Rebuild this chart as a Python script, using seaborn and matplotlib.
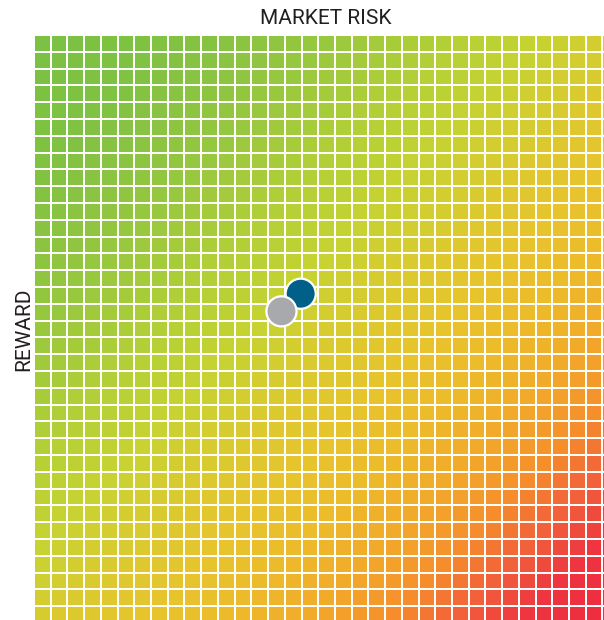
import numpy as np
import pandas as pd
import seaborn as sns
import matplotlib.pyplot as plt
from matplotlib.colors import LinearSegmentedColormap

# grid of the risk/reward map
n_cols = 35
n_rows = 35

# colour ramp of the background, along the diagonal (0 = top-left, 1 = bottom-right)
ramp_stops = [0.0, 0.12, 0.24, 0.34, 0.44, 0.52, 0.60, 0.68, 0.75, 0.81, 0.87, 0.93, 1.0]
ramp_colors = ["#7ac143", "#80c242", "#93c63f", "#adce38", "#c5d332", "#d9ca2f",
               "#e6c42c", "#edba2b", "#f2a82a", "#f6902a", "#f2613a", "#ee3540", "#ee2b40"]

# the two holdings, in grid cells (risk from left, reward from bottom)
names = ["Portfolio", "Benchmark"]
risk = [15.95, 14.8]
reward = [19.6, 18.55]
colors = ["#00608a", "#a7a9ac"]

cmap = LinearSegmentedColormap.from_list("rr", list(zip(ramp_stops, ramp_colors)))

cell_w, cell_h = 16.72, 16.8
w = n_cols * cell_w
h = n_rows * cell_h

# diagonal position of each cell centre over the visible 604x620 picture
cx = 34 + (np.arange(n_cols) + 0.5) * cell_w
cy = 35 + (np.arange(n_rows) + 0.5) * cell_h
heat = (cx[None, :] + cy[:, None] - 69) / 1155

fig = plt.figure(figsize=(6.04, 6.2), dpi=100)
ax = fig.add_axes([34 / 604, (620 - 35 - h) / 620, w / 604, h / 620])
sns.heatmap(heat, ax=ax, cmap=cmap, vmin=0, vmax=1, cbar=False,
            linewidths=1.1, linecolor="white",
            xticklabels=False, yticklabels=False)

pts = pd.DataFrame({"name": names, "x": risk, "y": [n_rows - r for r in reward]})
sns.scatterplot(data=pts, x="x", y="y", hue="name", palette=colors,
                s=470, edgecolor="white", linewidth=1.6, legend=False, ax=ax, zorder=5)
ax.set_xlabel("")
ax.set_ylabel("")
ax.set_xlim(0, n_cols)
ax.set_ylim(n_rows, 0)

fig.text(326 / 604, 1 - 19 / 620, "MARKET RISK", ha="center", va="center",
         fontsize=15, family="Roboto", color="#231f20")
fig.text(24 / 604, 1 - 329 / 620, "REWARD", ha="center", va="center", rotation=90,
         fontsize=15, family="Roboto", color="#231f20")

fig.savefig("out.png", dpi=100)
